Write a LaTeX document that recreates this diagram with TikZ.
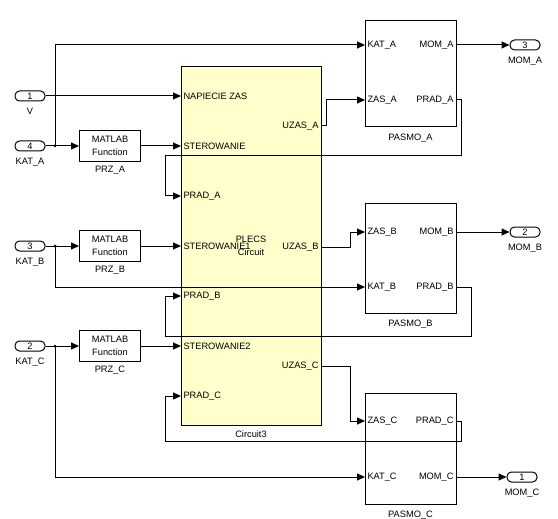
\documentclass[tikz,border=0pt]{standalone}
\usepackage{fontspec}
\setmainfont{Liberation Sans}
\usetikzlibrary{arrows.meta,positioning}
\definecolor{plecsfill}{RGB}{255,255,204}

\begin{document}
\begin{tikzpicture}[x=1bp, y=-1bp, line width=1bp,
  font=\fontsize{9.3}{12.5}\selectfont,
  sig/.style={-{Triangle[length=8bp,width=7bp]}},
  blk/.style={draw, fill=white, inner sep=0pt},
  inport/.style={draw, rounded corners=4.5bp, minimum width=30bp, minimum height=10bp, inner sep=0pt},
  fcn/.style={blk, minimum width=61bp, minimum height=31bp, align=center},
  pasmo/.style={blk, minimum width=91bp},
  pin/.style={inner sep=2bp},
  tag/.style={inner sep=0pt}]
\useasboundingbox (0,0) rectangle (558,519);

%blocks
\node[blk, fill=plecsfill, minimum width=140bp, minimum height=358bp, align=center] (circ) at (251,246) {PLECS\\Circuit};
\node[tag, below=5bp of circ] (circName) {Circuit3};

\node[fcn] (przA) at (110,146) {MATLAB\\Function};
\node[fcn] (przB) at (110,246) {MATLAB\\Function};
\node[fcn] (przC) at (110,346) {MATLAB\\Function};
\node[tag, below=4bp of przA] {PRZ\_A};
\node[tag, below=4bp of przB] {PRZ\_B};
\node[tag, below=4bp of przC] {PRZ\_C};

\node[pasmo, minimum height=106bp] (pasA) at (410.5,74) {};
\node[pasmo, minimum height=109bp] (pasB) at (410.5,258.5) {};
\node[pasmo, minimum height=111bp] (pasC) at (410.5,448.5) {};
\node[tag, below=6bp of pasA] {PASMO\_A};
\node[tag, below=6bp of pasB] {PASMO\_B};
\node[tag, below=6bp of pasC] {PASMO\_C};

%ports
\node[inport] (in1) at (30,96) {1};
\node[inport] (inA) at (30,146) {4};
\node[inport] (inB) at (30,246) {3};
\node[inport] (inC) at (30,346) {2};
\node[tag, below=6bp of in1] {V};
\node[tag, below=6bp of inA] {KAT\_A};
\node[tag, below=6bp of inB] {KAT\_B};
\node[tag, below=6bp of inC] {KAT\_C};

\node[inport] (outA) at (525,45) {3};
\node[inport] (outB) at (525,232) {2};
\node[inport] (outC) at (522,477) {1};
\node[tag, below=6bp of outA] {MOM\_A};
\node[tag, below=6bp of outB] {MOM\_B};
\node[tag, below=6bp of outC] {MOM\_C};

%circuit pins
\node[pin, anchor=west] (c-nap) at (181,96) {NAPIECIE ZAS};
\node[pin, anchor=west] (c-sterA) at (181,146) {STEROWANIE};
\node[pin, anchor=west] (c-pradA) at (181,196) {PRAD\_A};
\node[pin, anchor=west] (c-sterB) at (181,246) {STEROWANIE1};
\node[pin, anchor=west] (c-pradB) at (181,296) {PRAD\_B};
\node[pin, anchor=west] (c-sterC) at (181,346) {STEROWANIE2};
\node[pin, anchor=west] (c-pradC) at (181,396) {PRAD\_C};
\node[pin, anchor=east] (c-uzA) at (321,126) {UZAS\_A};
\node[pin, anchor=east] (c-uzB) at (321,247) {UZAS\_B};
\node[pin, anchor=east] (c-uzC) at (321,366) {UZAS\_C};

%pasmo pins
\node[pin, anchor=west] (pA-kat) at (365,45) {KAT\_A};
\node[pin, anchor=west] (pA-zas) at (365,100) {ZAS\_A};
\node[pin, anchor=east] (pA-mom) at (456,45) {MOM\_A};
\node[pin, anchor=east] (pA-prad) at (456,100) {PRAD\_A};
\node[pin, anchor=west] (pB-zas) at (365,232) {ZAS\_B};
\node[pin, anchor=west] (pB-kat) at (365,287) {KAT\_B};
\node[pin, anchor=east] (pB-mom) at (456,232) {MOM\_B};
\node[pin, anchor=east] (pB-prad) at (456,287) {PRAD\_B};
\node[pin, anchor=west] (pC-zas) at (365,421) {ZAS\_C};
\node[pin, anchor=west] (pC-kat) at (365,477) {KAT\_C};
\node[pin, anchor=east] (pC-prad) at (456,421) {PRAD\_C};
\node[pin, anchor=east] (pC-mom) at (456,477) {MOM\_C};

%junctions
\coordinate (jA) at (55,146);
\coordinate (jB) at (55,246);
\coordinate (jC) at (55,346);
\foreach \j in {jA,jB,jC} \fill (\j) circle (1.5bp);

%phase A
\draw[sig] (in1.east) -- (c-nap.west);
\draw[sig] (inA.east) -- (przA.west);
\draw[sig] (jA) |- (pA-kat.west);
\draw[sig] (przA.east) -- (c-sterA.west);
\draw[sig] (c-uzA.east) -- ++(5,0) |- (pA-zas.west);
\draw[sig] (pA-prad.east) -- ++(5,0) |- (165,156) |- (c-pradA.west);
\draw[sig] (pA-mom.east) -- (outA.west);

%phase B
\draw[sig] (inB.east) -- (przB.west);
\draw[sig] (jB) |- (pB-kat.west);
\draw[sig] (przB.east) -- (c-sterB.west);
\draw[sig] (c-uzB.east) -- ++(29,0) |- (pB-zas.west);
\draw[sig] (pB-prad.east) -- ++(15,0) |- (165,336) |- (c-pradB.west);
\draw[sig] (pB-mom.east) -- (outB.west);

%phase C
\draw[sig] (inC.east) -- (przC.west);
\draw[sig] (jC) |- (pC-kat.west);
\draw[sig] (przC.east) -- (c-sterC.west);
\draw[sig] (c-uzC.east) -- ++(29,0) |- (pC-zas.west);
\draw[sig] (pC-prad.east) -- ++(5,0) |- (165,441) |- (c-pradC.west);
\draw[sig] (pC-mom.east) -- (outC.west);
\end{tikzpicture}
\end{document}
